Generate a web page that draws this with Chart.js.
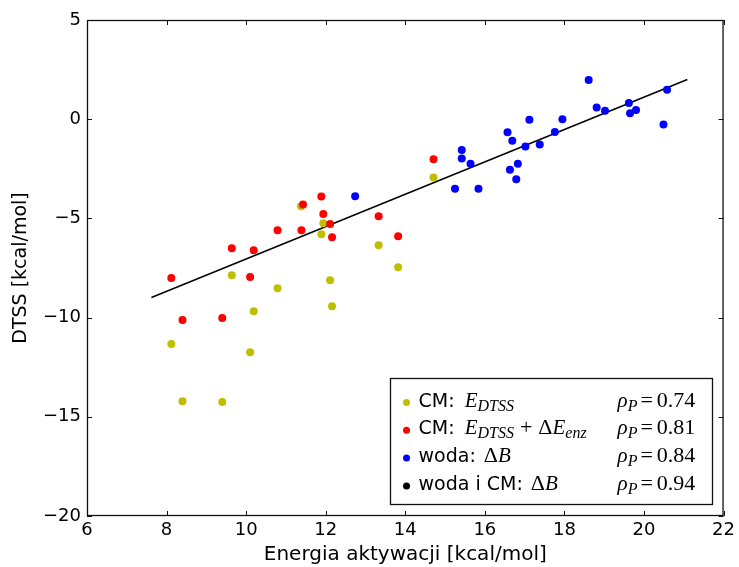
<!DOCTYPE html>
<html>
<head>
<meta charset="utf-8">
<script src="https://cdn.jsdelivr.net/npm/chart.js@4"></script>
<style>
  html, body { margin: 0; padding: 0; background: #fff; }
</style>
</head>
<body>
<canvas id="chart" width="739" height="567"></canvas>
<script>
// dane
const xTicks = [6, 8, 10, 12, 14, 16, 18, 20, 22];
const yTicks = [-20, -15, -10, -5, 0, 5];

// CM: E_DTSS (zolte)
const cmX = [8.12, 8.40, 9.40, 9.64, 10.10, 10.19, 10.79, 11.38, 11.89, 11.94, 12.11, 12.16, 13.33, 13.82, 14.71];
const cmY = [-11.33, -14.21, -14.26, -7.87, -11.75, -9.68, -8.52, -4.39, -5.80, -5.24, -8.12, -9.43, -6.35, -7.46, -2.94];

// CM: E_DTSS + dE_enz (czerwone)
const enzX = [8.12, 8.40, 9.40, 9.64, 10.10, 10.19, 10.79, 11.39, 11.43, 11.89, 11.94, 12.11, 12.16, 13.33, 13.82, 14.71];
const enzY = [-8.00, -10.12, -10.02, -6.51, -7.95, -6.61, -5.60, -5.60, -4.30, -3.90, -4.78, -5.28, -5.95, -4.89, -5.90, -2.02];

// woda: dB (niebieskie)
const wodaX = [12.74, 15.25, 15.84, 15.42, 15.42, 15.64, 16.57, 16.69, 16.63, 16.83, 16.79, 17.02, 17.12, 17.38, 17.76, 17.95, 18.61, 18.81, 19.02, 19.62, 19.65, 19.80, 20.49, 20.58];
const wodaY = [-3.88, -3.50, -3.51, -1.55, -1.98, -2.25, -0.66, -1.08, -2.55, -2.25, -3.03, -1.38, -0.03, -1.28, -0.64, 0.00, 1.98, 0.59, 0.42, 0.82, 0.30, 0.47, -0.27, 1.48];

// prosta dopasowania (woda i CM)
const fitX = [7.62, 21.09];
const fitY = [-8.99, 2.00];

const seriesColors = ['#bfbf00', '#ff0000', '#0000ff', '#000000'];
const rhoValues = ['0.74', '0.81', '0.84', '0.94'];

const SANS = '19px "DejaVu Sans"';
const MI = 'italic 21px "Liberation Serif"';
const SUB = 'italic 16px "Liberation Serif"';
const RM = '22px "Liberation Serif"';

// etykiety legendy: [tekst, czcionka, przesuniecie w dol, dodatkowy odstep]
const seriesNames = [
    [['CM: ', SANS, 0, 4], ['E', MI], ['DTSS', SUB, 4]],
    [['CM: ', SANS, 0, 4], ['E', MI], ['DTSS', SUB, 4, 6], ['+', RM, 0, 6], ['Δ', RM], ['E', MI], ['enz', SUB, 4]],
    [['woda: ', SANS, 0, 2], ['Δ', RM], ['B', MI]],
    [['woda i CM: ', SANS, 0, 2], ['Δ', RM], ['B', MI]]
];

function toPoints(xs, ys) {
    return xs.map((x, i) => ({ x: x, y: ys[i] }));
}

function drawRuns(ctx, runs, x, y) {
    runs.forEach(run => {
        ctx.font = run[1];
        ctx.fillText(run[0], x, y + (run[2] || 0));
        x += ctx.measureText(run[0]).width + (run[3] || 0);
    });
}

// ramka i znaczniki skierowane do srodka (jak w matplotlib)
const frameTicks = {
    id: 'frameTicks',
    afterDatasetsDraw(chart) {
        const { ctx, chartArea: a, scales } = chart;
        const len = 5;
        ctx.save();
        ctx.strokeStyle = '#111';
        ctx.lineWidth = 1;
        ctx.beginPath();
        xTicks.forEach(v => {
            const px = Math.round(scales.x.getPixelForValue(v)) + 0.5;
            ctx.moveTo(px, a.bottom); ctx.lineTo(px, a.bottom - len);
            ctx.moveTo(px, a.top); ctx.lineTo(px, a.top + len);
        });
        yTicks.forEach(v => {
            const py = Math.round(scales.y.getPixelForValue(v)) + 0.5;
            ctx.moveTo(a.left, py); ctx.lineTo(a.left + len, py);
            ctx.moveTo(a.right, py); ctx.lineTo(a.right - len, py);
        });
        ctx.stroke();
        ctx.lineWidth = 1.3;
        ctx.strokeRect(a.left + 0.5, a.top + 0.5, a.right - a.left - 1, a.bottom - a.top - 1);
        ctx.restore();
    }
};

// legenda rysowana recznie (indeksy dolne w etykietach)
const mathLegend = {
    id: 'mathLegend',
    afterDraw(chart) {
        const { ctx, chartArea: a } = chart;
        const w = 322, h = 126;
        const left = a.right - 12 - w;
        const top = a.bottom - 12 - h;
        ctx.save();
        ctx.fillStyle = '#fff';
        ctx.fillRect(left, top, w, h);
        ctx.strokeStyle = '#111';
        ctx.lineWidth = 1.3;
        ctx.strokeRect(Math.round(left) + 0.5, Math.round(top) + 0.5, w, h);
        ctx.textBaseline = 'alphabetic';
        seriesNames.forEach((runs, i) => {
            const base = top + 28.5 + i * 27.8;
            ctx.fillStyle = seriesColors[i];
            ctx.beginPath();
            ctx.arc(left + 17, base - 4, 3.5, 0, Math.PI * 2);
            ctx.fill();
            ctx.fillStyle = '#000';
            drawRuns(ctx, runs, left + 29, base);
            drawRuns(ctx, [['ρ', MI], ['P', SUB, 4, 3], ['=', RM, 0, 4], [rhoValues[i], RM]], left + 228, base);
        });
        ctx.restore();
    }
};

const minus = v => String(v).replace('-', '\u2212');

new Chart(document.getElementById('chart'), {
    type: 'scatter',
    data: {
        datasets: [
            { label: 'fit', type: 'line', data: toPoints(fitX, fitY), borderColor: '#000', borderWidth: 1.5, pointRadius: 0, fill: false, order: 4 },
            { label: 'CM: E_DTSS', data: toPoints(cmX, cmY), backgroundColor: seriesColors[0], borderWidth: 0, pointRadius: 4, order: 3 },
            { label: 'CM: E_DTSS + dE_enz', data: toPoints(enzX, enzY), backgroundColor: seriesColors[1], borderWidth: 0, pointRadius: 4, order: 2 },
            { label: 'woda: dB', data: toPoints(wodaX, wodaY), backgroundColor: seriesColors[2], borderWidth: 0, pointRadius: 4, order: 1 }
        ]
    },
    options: {
        responsive: false,
        animation: false,
        layout: { padding: { top: 20, right: 12, left: 0, bottom: 0 } },
        plugins: {
            legend: { display: false },
            tooltip: { enabled: false }
        },
        scales: {
            x: {
                type: 'linear',
                min: 6,
                max: 22,
                grid: { display: false, drawTicks: false },
                border: { display: false },
                afterBuildTicks: s => { s.ticks = xTicks.map(v => ({ value: v })); },
                afterFit: s => { s.height = 51; },
                ticks: {
                    color: '#000',
                    padding: 4,
                    maxRotation: 0,
                    font: { family: 'DejaVu Sans', size: 18 },
                    callback: v => minus(v)
                },
                title: {
                    display: true,
                    text: 'Energia aktywacji [kcal/mol]',
                    color: '#000',
                    padding: { top: 0, bottom: 0 },
                    font: { family: 'DejaVu Sans', size: 20 }
                }
            },
            y: {
                type: 'linear',
                min: -20,
                max: 5,
                grid: { display: false, drawTicks: false },
                border: { display: false },
                afterBuildTicks: s => { s.ticks = yTicks.map(v => ({ value: v })); },
                afterFit: s => { s.width = 87; },
                ticks: {
                    color: '#000',
                    padding: 6,
                    font: { family: 'DejaVu Sans', size: 18 },
                    callback: v => minus(v)
                },
                title: {
                    display: true,
                    text: 'DTSS [kcal/mol]',
                    color: '#000',
                    padding: { top: 10, bottom: 10 },
                    font: { family: 'DejaVu Sans', size: 19 }
                }
            }
        }
    },
    plugins: [frameTicks, mathLegend]
});
</script>
</body>
</html>
